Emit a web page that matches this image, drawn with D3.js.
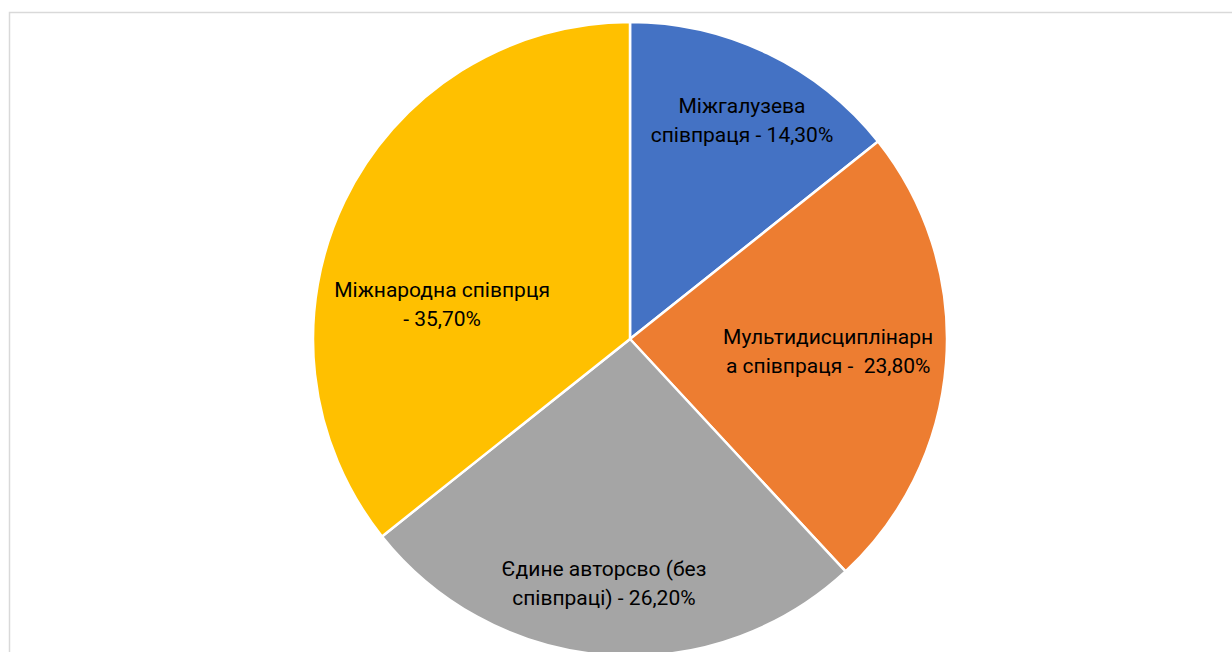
<!DOCTYPE html>
<html>
<head>
<meta charset="utf-8">
<script src="https://cdn.jsdelivr.net/npm/d3@7"></script>
<style>
  html, body { margin: 0; padding: 0; background: #fff; }
  svg { display: block; }
</style>
</head>
<body>
<svg id="chart" width="1232" height="652"></svg>
<script>
// chart data
const categories = [
  ['Міжгалузева', 'співпраця - 14,30%'],
  ['Мультидисциплінарн', 'а співпраця -  23,80%'],
  ['Єдине авторсво (без', 'співпраці) - 26,20%'],
  ['Міжнародна співпрця', '- 35,70%']
];
const values = [14.3, 23.8, 26.2, 35.7];
const colors = ['#4472C4', '#ED7D31', '#A5A5A5', '#FFC000'];

const width = 1232, height = 652;
const cx = 630, cy = 339, R = 317;
// label placement, like Excel's best fit: fraction of radius + angle nudge (deg)
const labelDist = [0.754, 0.628, 0.798, 0.599];
const labelNudge = [2.2, 1.2, 1.6, -17.4];

const svg = d3.select('#chart');

// chart area border
svg.append('rect')
  .attr('x', 9.5).attr('y', 12.5)
  .attr('width', width + 20).attr('height', height + 20)
  .attr('fill', '#fff')
  .attr('stroke', '#d9d9d9')
  .attr('stroke-width', 1.5);

const pie = d3.pie().sort(null).value(d => d);
const arcs = pie(values);
const arc = d3.arc().innerRadius(0).outerRadius(R);

const g = svg.append('g').attr('transform', `translate(${cx},${cy})`);

g.selectAll('path')
  .data(arcs)
  .join('path')
  .attr('d', arc)
  .attr('fill', (d, i) => colors[i])
  .attr('stroke', '#fff')
  .attr('stroke-width', 2.5)
  .attr('stroke-linejoin', 'round');

const lineH = 29;
const labels = g.selectAll('text.lbl')
  .data(arcs)
  .join('text')
  .attr('class', 'lbl')
  .attr('text-anchor', 'middle')
  .attr('fill', '#000')
  .style('font-family', 'Roboto, "Open Sans", sans-serif')
  .style('font-size', '21px')
  .attr('transform', (d, i) => {
    const a = (d.startAngle + d.endAngle) / 2 + labelNudge[i] * Math.PI / 180;
    const r = R * labelDist[i];
    return `translate(${r * Math.sin(a)},${-r * Math.cos(a)})`;
  });

labels.selectAll('tspan')
  .data((d, i) => categories[i])
  .join('tspan')
  .attr('x', 0)
  .attr('y', (t, j) => (j - 0.5) * lineH)
  .attr('xml:space', 'preserve')
  .style('white-space', 'pre')
  .text(t => t);
</script>
</body>
</html>
